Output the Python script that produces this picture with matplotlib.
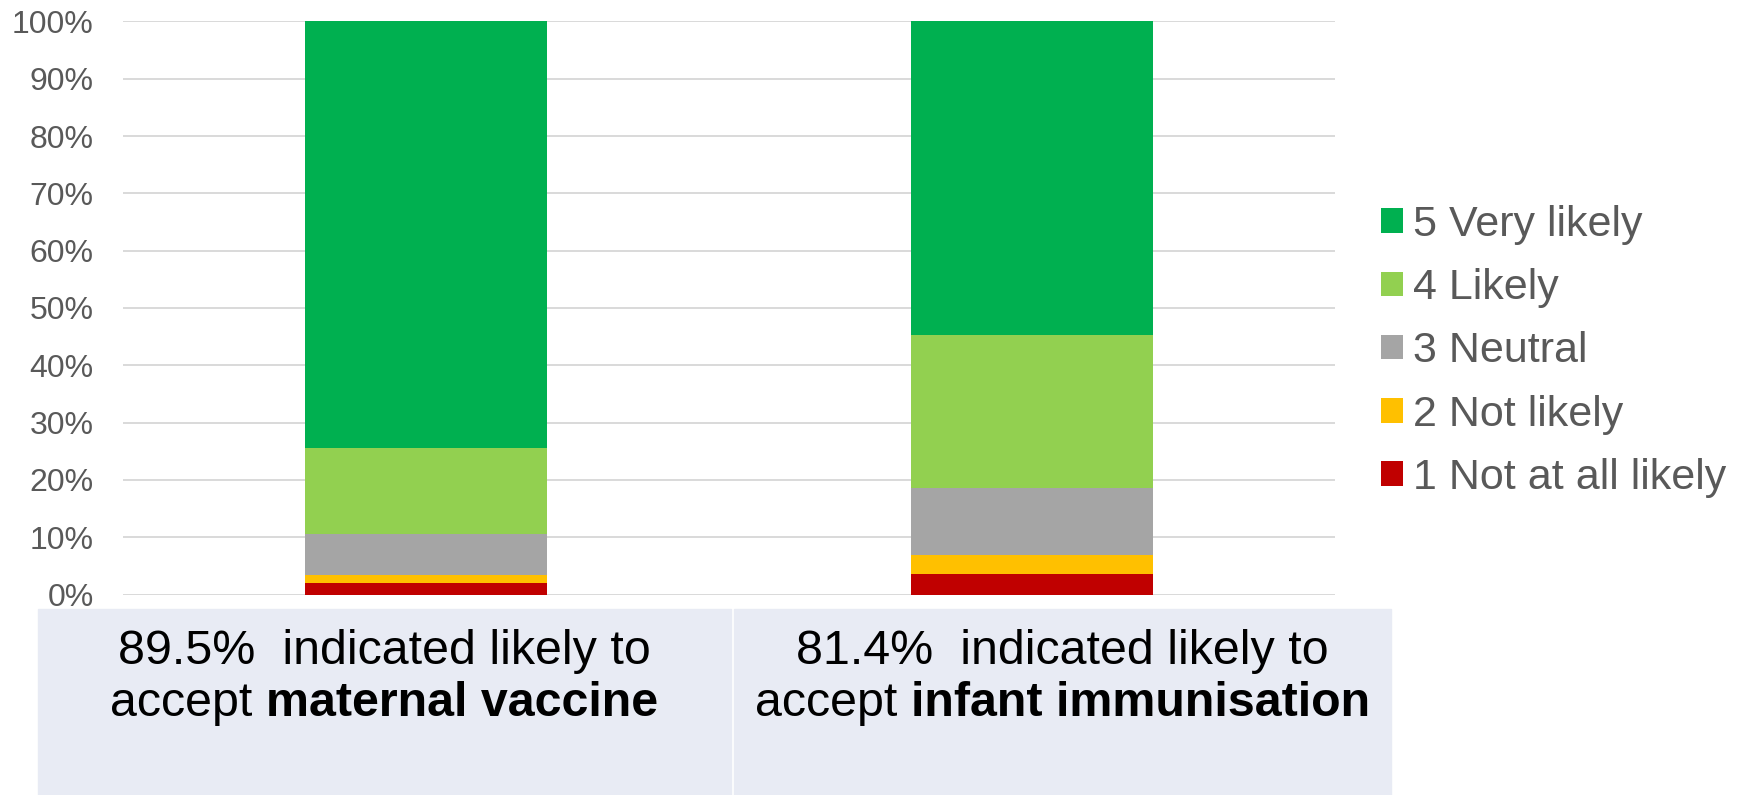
import matplotlib as mpl
mpl.use('Agg')
import matplotlib.pyplot as plt
from matplotlib.patches import Rectangle
from matplotlib.ticker import PercentFormatter

plt.rcParams['font.family'] = ['Liberation Sans', 'DejaVu Sans']

# survey responses, percent of respondents per answer
groups = ['maternal vaccine', 'infant immunisation']
levels = ['1 Not at all likely', '2 Not likely', '3 Neutral', '4 Likely', '5 Very likely']
colors = ['#C00000', '#FFC000', '#A5A5A5', '#92D050', '#00B050']
not_at_all = [2.0, 3.6]
not_likely = [1.4, 3.3]
neutral = [7.1, 11.7]
likely = [15.0, 26.7]
very_likely = [74.5, 54.7]
summary = ['89.5%', '81.4%']

series = [not_at_all, not_likely, neutral, likely, very_likely]

fig = plt.figure(figsize=(17.49, 7.95), dpi=100)
ax = fig.add_axes([0.0703, 0.2522, 0.693, 0.7208])

x = range(len(groups))
bottom = [0.0] * len(groups)
handles = []
for vals, lab, col in zip(series, levels, colors):
    h = ax.bar(x, vals, width=0.4, bottom=bottom, color=col, label=lab, zorder=3)
    handles.append(h)
    bottom = [b + v for b, v in zip(bottom, vals)]

ax.set_xlim(-0.5, 1.5)
ax.set_ylim(0, 100)
ax.set_yticks(range(0, 101, 10))
ax.yaxis.set_major_formatter(PercentFormatter(decimals=0))
ax.set_xticks([])
ax.tick_params(axis='y', length=0, pad=21, labelsize=23, labelcolor='#595959')
ax.grid(axis='y', color='#D9D9D9', linewidth=1.4, zorder=0)
for s in ax.spines.values():
    s.set_visible(False)

ax.legend(handles[::-1], levels[::-1], loc='center left',
          bbox_to_anchor=(0.7896, 0.558), bbox_transform=fig.transFigure,
          frameon=False, fontsize=31, labelcolor='#595959',
          handlelength=0.5, handleheight=0.5, handletextpad=0.24,
          labelspacing=0.54, borderpad=0, borderaxespad=0)

# summary boxes under the bars
W, H = 1749.0, 795.0
cells = [(38, 731), (734, 1391)]
box_top = 609
for (x0, x1) in cells:
    fig.patches.append(Rectangle((x0 / W, 0), (x1 - x0) / W, 1 - box_top / H,
                                 transform=fig.transFigure, color='#E8EBF4',
                                 zorder=0))

fig.canvas.draw()
renderer = fig.canvas.get_renderer()
fs = 34.8
for (x0, x1), pct, grp in zip(cells, summary, groups):
    cx = (x0 + x1) / 2 / W
    fig.text(cx, 1 - 664 / H, pct + '  indicated likely to', ha='center',
             va='baseline', fontsize=fs, color='black')
    t1 = fig.text(0, 1 - 716 / H, 'accept ', ha='left', va='baseline',
                  fontsize=fs, color='black')
    t2 = fig.text(0, 1 - 716 / H, grp, ha='left', va='baseline',
                  fontsize=fs, fontweight='bold', color='black')
    w1 = t1.get_window_extent(renderer).width
    w2 = t2.get_window_extent(renderer).width
    left = (x0 + x1) / 2 - (w1 + w2) / 2
    t1.set_x(left / W)
    t2.set_x((left + w1) / W)

fig.savefig('out.png', dpi=100)
